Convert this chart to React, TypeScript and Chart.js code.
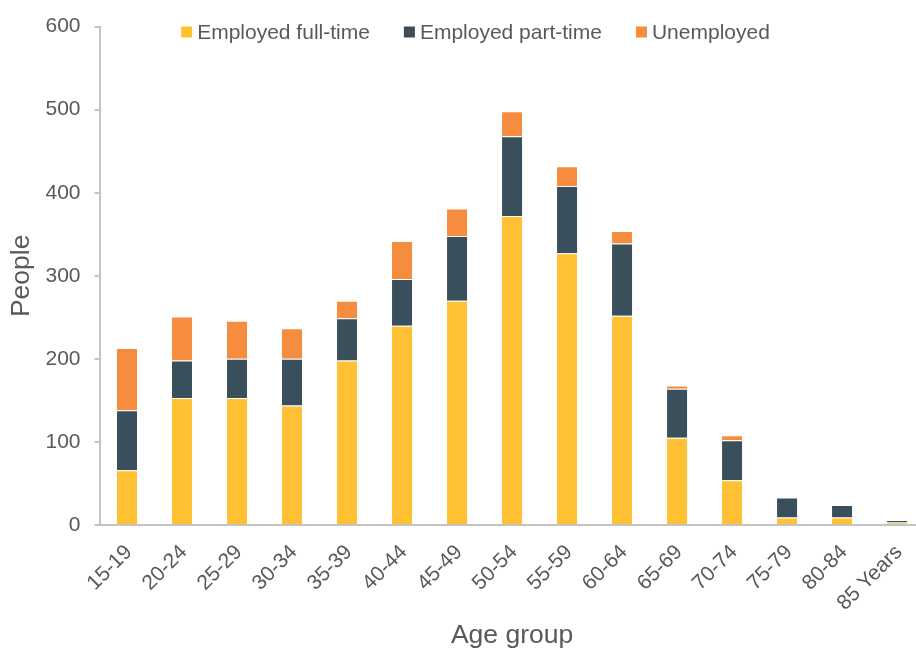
import React, { useEffect, useRef } from 'react';
import { Chart, registerables } from 'chart.js';

Chart.register(...registerables);

const categories = ['15-19', '20-24', '25-29', '30-34', '35-39', '40-44', '45-49', '50-54', '55-59', '60-64', '65-69', '70-74', '75-79', '80-84', '85 Years'];
const fullTime = [66, 153, 153, 144, 198, 240, 270, 372, 327, 252, 105, 54, 9, 9, 3];
const partTime = [72, 45, 47, 56, 51, 56, 78, 96, 81, 87, 59, 48, 24, 15, 3];
const unemployed = [75, 53, 46, 37, 21, 46, 33, 30, 24, 15, 4, 6, 0, 0, 0];
const seriesNames = ['Employed full-time', 'Employed part-time', 'Unemployed'];
const yTicks = [0, 100, 200, 300, 400, 500, 600];

const FONT = '"Liberation Sans", Arial, sans-serif';
const TEXT = '#595959';
const AXIS = '#C4C4C4';
const COLORS = ['#FFC133', '#394F5B', '#F68D3E'];
const CANVAS_W = 930;
const CANVAS_H = 652;

const legendPlugin = {
  id: 'customLegend',
  afterDraw(chart: any) {
    const ctx = chart.ctx;
    ctx.save();
    ctx.font = `21px ${FONT}`;
    ctx.textBaseline = 'middle';
    ctx.textAlign = 'left';
    const box = 11;
    const gap = 5;
    const itemGap = 34;
    const items = chart.data.datasets.map((ds: any) => ({
      label: ds.label,
      color: ds.backgroundColor,
      w: ctx.measureText(ds.label).width,
    }));
    const total = items.reduce((s: number, it: any) => s + box + gap + it.w, 0) + itemGap * (items.length - 1);
    let x = 475.5 - total / 2;
    const y = 32;
    for (const it of items) {
      ctx.fillStyle = it.color;
      ctx.fillRect(x, y - box / 2, box, box);
      ctx.fillStyle = TEXT;
      ctx.fillText(it.label, x + box + gap, y + 1);
      x += box + gap + it.w + itemGap;
    }
    ctx.restore();
  },
};

export default function App() {
  const ref = useRef<HTMLCanvasElement | null>(null);

  useEffect(() => {
    if (!ref.current) return;
    const values = [fullTime, partTime, unemployed];
    const chart = new Chart(ref.current, {
      type: 'bar',
      data: {
        labels: categories,
        datasets: seriesNames.map((name, i) => ({
          label: name,
          data: values[i],
          backgroundColor: COLORS[i],
          borderColor: 'rgba(255,255,255,0.3)',
          borderWidth: 1,
          barPercentage: 0.4,
          categoryPercentage: 1,
        })),
      },
      options: {
        responsive: false,
        animation: false,
        devicePixelRatio: 1,
        layout: { padding: { left: 0, right: 3, top: 25, bottom: 0 } },
        plugins: {
          legend: { display: false },
          tooltip: { enabled: false },
        },
        scales: {
          x: {
            stacked: true,
            grid: { display: false, drawTicks: false },
            border: { display: true, color: AXIS, width: 2 },
            ticks: {
              color: TEXT,
              font: { family: FONT, size: 21 },
              minRotation: 45,
              maxRotation: 45,
              padding: 15,
              labelOffset: 2,
              autoSkip: false,
            },
            title: {
              display: true,
              text: 'Age group',
              color: TEXT,
              font: { family: FONT, size: 26.5, lineHeight: 1.2 },
              padding: { top: 0, bottom: 0 },
            },
            afterFit: (scale: any) => {
              scale.height = 127;
            },
          },
          y: {
            stacked: true,
            min: 0,
            max: 600,
            afterBuildTicks: (scale: any) => {
              scale.ticks = yTicks.map((v) => ({ value: v }));
            },
            grid: {
              display: true,
              drawOnChartArea: false,
              drawTicks: true,
              tickLength: 5,
              color: AXIS,
              lineWidth: 2,
            },
            border: { display: true, color: AXIS, width: 2 },
            ticks: {
              color: TEXT,
              font: { family: FONT, size: 21 },
              padding: 14,
            },
            title: {
              display: true,
              text: 'People',
              color: TEXT,
              font: { family: FONT, size: 26.5, lineHeight: 1.2 },
              padding: { top: 6, bottom: 0 },
            },
            afterFit: (scale: any) => {
              scale.width = 99.5;
            },
          },
        },
      },
      plugins: [legendPlugin],
    });
    return () => chart.destroy();
  }, []);

  return (
    <div style={{ position: 'fixed', left: 0, top: 0, width: 916, height: 652, overflow: 'hidden', background: '#fff' }}>
      <canvas ref={ref} width={CANVAS_W} height={CANVAS_H} style={{ display: 'block', width: CANVAS_W, height: CANVAS_H }} />
    </div>
  );
}
